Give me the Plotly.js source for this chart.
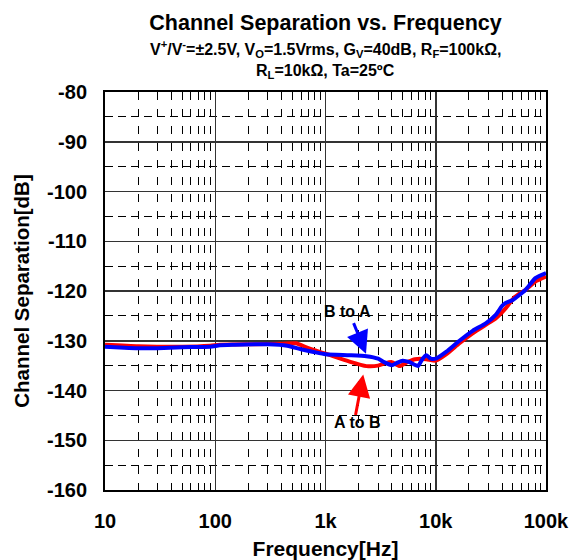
<!DOCTYPE html>
<html>
<head>
<meta charset="utf-8">
<script src="https://cdn.plot.ly/plotly-3.0.1.min.js"></script>
<style>html,body{margin:0;padding:0;background:#fff;}#chart{width:569px;height:560px;}</style>
</head>
<body>
<div id="chart"></div>
<script>
// ---- data ----
const freqAtoB = [10, 20, 50, 90, 110, 230, 400, 540, 700, 1000, 1650, 2350, 3000, 3500, 4000, 4700, 5500, 6500, 8200, 10000, 12500, 16400, 21600, 28400, 35000, 43000, 52000, 65000, 80000, 100000];
const sepAtoB  = [-130.8, -131.1, -131.2, -131.0, -130.8, -130.7, -130.6, -130.5, -131.5, -132.6, -134.2, -135.1, -135.0, -134.5, -134.3, -135.1, -134.3, -133.7, -133.7, -134.0, -132.7, -130.5, -128.5, -126.8, -125.5, -123.5, -121.2, -119.8, -118.1, -117.1];

const freqBtoA = [10, 15, 20, 30, 50, 90, 110, 150, 230, 300, 450, 600, 800, 1000, 1650, 2350, 3000, 3400, 4000, 4400, 5000, 5800, 6900, 7600, 8200, 9000, 10000, 12500, 16400, 21600, 28400, 35000, 40000, 43000, 50000, 65000, 80000, 100000];
const sepBtoA  = [-131.2, -131.4, -131.5, -131.5, -131.3, -131.2, -130.9, -130.8, -130.7, -130.7, -131.0, -131.7, -132.3, -132.7, -132.9, -133.1, -133.6, -134.3, -134.9, -134.5, -134.0, -134.3, -135.1, -133.6, -132.9, -133.6, -133.6, -132.2, -130.0, -128.0, -126.5, -124.8, -123.0, -122.4, -121.8, -119.8, -117.4, -116.4];

const xTickVals = [10, 100, 1000, 10000, 100000];
const xTickText = ["10", "100", "1k", "10k", "100k"];
const yTickVals = [-80, -90, -100, -110, -120, -130, -140, -150, -160];
const yTickText = ["-80", "-90", "-100", "-110", "-120", "-130", "-140", "-150", "-160"];
const xMinorVals = [];
[10, 100, 1000, 10000].forEach(d => { for (let k = 2; k <= 9; k++) xMinorVals.push(d * k); });

const titleText = "Channel Separation vs. Frequency";
const subtitle1 = "V<sup>+</sup>/V<sup>-</sup>=±2.5V, V<sub>O</sub>=1.5Vrms, G<sub>V</sub>=40dB, R<sub>F</sub>=100kΩ,";
const subtitle2 = "R<sub>L</sub>=10kΩ, Ta=25ºC";

const FONT = "Liberation Sans, Arial, sans-serif";

const traces = [
  {x: freqAtoB, y: sepAtoB, mode: "lines", name: "A to B",
   line: {color: "#ff0000", width: 4, shape: "spline", smoothing: 0.5}},
  {x: freqBtoA, y: sepBtoA, mode: "lines", name: "B to A",
   line: {color: "#0000ff", width: 4, shape: "spline", smoothing: 0.5}}
];

const layout = {
  width: 569, height: 560,
  margin: {l: 105, r: 23, t: 92, b: 70},
  paper_bgcolor: "#fff", plot_bgcolor: "#fff",
  showlegend: false,
  font: {family: FONT, color: "#000", weight: "bold"},
  title: {text: titleText, font: {family: FONT, size: 21.5, weight: "bold", color: "#000"},
          x: 0.5, xref: "paper", xanchor: "center", y: 1 - 22 / 560, yref: "container", yanchor: "middle"},
  xaxis: {
    type: "log", range: [1, 5],
    tickmode: "array", tickvals: xTickVals, ticktext: xTickText,
    tickfont: {family: FONT, size: 20, weight: "bold", color: "#000"},
    ticklabeloverflow: "allow", ticklabelstandoff: 12,
    ticks: "", showgrid: true, gridcolor: "#333", gridwidth: 1.5,
    showline: true, linecolor: "#000", linewidth: 2, mirror: true, zeroline: false,
    minor: {tickmode: "array", tickvals: xMinorVals, showgrid: true, gridcolor: "#000", gridwidth: 1, griddash: "8px,9px", ticks: ""},
    title: {text: "Frequency[Hz]", font: {family: FONT, size: 21, weight: "bold", color: "#000"}, standoff: 10}
  },
  yaxis: {
    range: [-160, -80], tickmode: "array", tickvals: yTickVals, ticktext: yTickText,
    tickfont: {family: FONT, size: 20, weight: "bold", color: "#000"},
    ticklabelstandoff: 12,
    ticks: "", showgrid: true, gridcolor: "#333", gridwidth: 1.5,
    showline: true, linecolor: "#000", linewidth: 2, mirror: true, zeroline: false,
    minor: {tickmode: "linear", tick0: -85, dtick: 10, showgrid: true, gridcolor: "#000", gridwidth: 1, griddash: "8px,5px", ticks: ""},
    title: {text: "Channel Separation[dB]", font: {family: FONT, size: 20.5, weight: "bold", color: "#000"}, standoff: 12}
  },
  annotations: [
    {text: subtitle1, xref: "paper", yref: "paper", x: 0.5, y: (490 - 49) / 398, showarrow: false,
     font: {family: FONT, size: 16, weight: "bold"}, xanchor: "center", yanchor: "middle"},
    {text: subtitle2, xref: "paper", yref: "paper", x: 0.5, y: (490 - 71) / 398, showarrow: false,
     font: {family: FONT, size: 16, weight: "bold"}, xanchor: "center", yanchor: "middle"},
    {text: "B to A", xref: "x", yref: "y", x: Math.log10(1580), y: -124.2, showarrow: false,
     font: {family: FONT, size: 16, weight: "bold"}},
    {text: "A to B", xref: "x", yref: "y", x: Math.log10(1950), y: -146.5, showarrow: false,
     font: {family: FONT, size: 16, weight: "bold"}},
    {text: "", xref: "x", yref: "y", x: Math.log10(2330), y: -132.6, showarrow: true,
     ax: -13, ay: -32, arrowcolor: "#0000ff", arrowwidth: 3, arrowhead: 2, arrowsize: 1.5},
    {text: "", xref: "x", yref: "y", x: Math.log10(2200), y: -136.8, showarrow: true,
     ax: -8, ay: 42, arrowcolor: "#ff0000", arrowwidth: 3, arrowhead: 2, arrowsize: 1.5}
  ]
};

Plotly.newPlot("chart", traces, layout, {staticPlot: true, displayModeBar: false});
</script>
</body>
</html>
